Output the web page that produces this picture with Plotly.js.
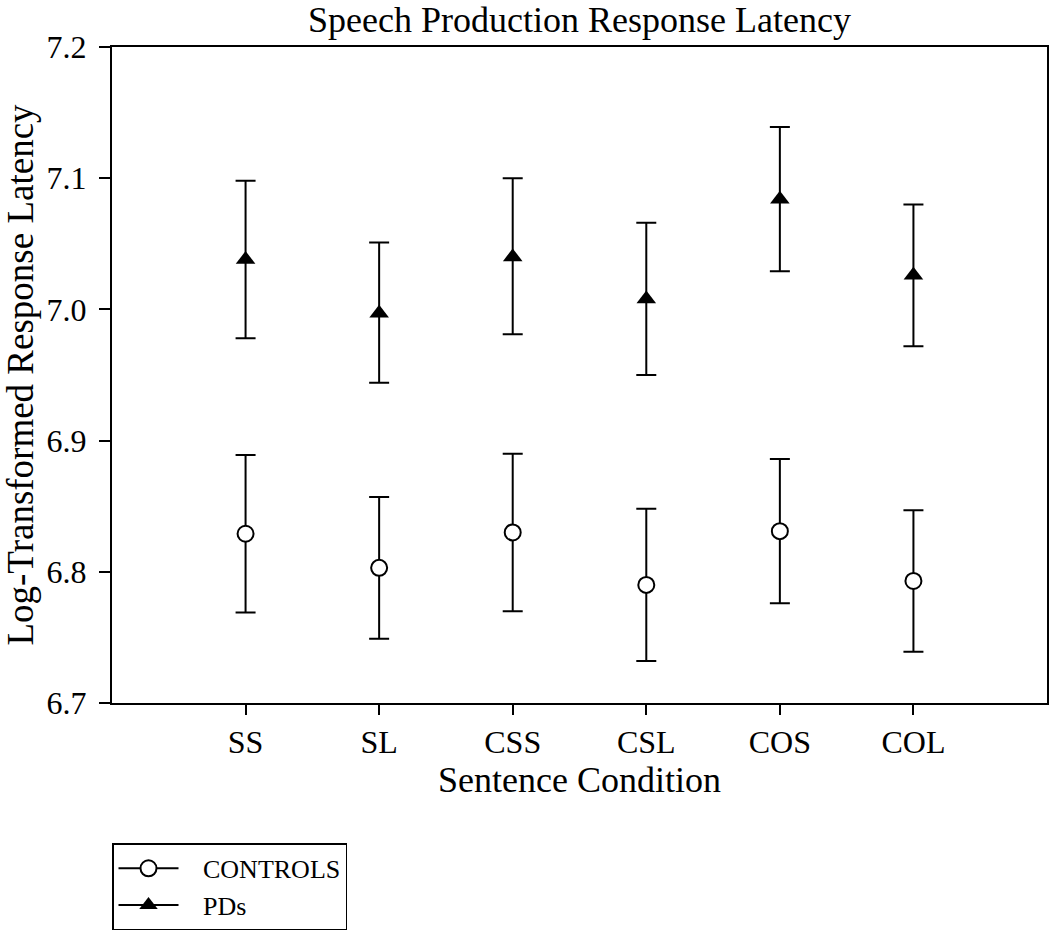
<!DOCTYPE html>
<html>
<head>
<meta charset="utf-8">
<script src="https://cdn.plot.ly/plotly-3.0.1.min.js"></script>
<style>html,body{margin:0;padding:0;background:#fff;}#chart{width:1050px;height:944px;}</style>
</head>
<body>
<div id="chart"></div>
<script>
const categories = ["SS", "SL", "CSS", "CSL", "COS", "COL"];
const positions = [1, 2, 3, 4, 5, 6];
const seriesNames = ["CONTROLS", "PDs"];

const controlsMean = [6.829, 6.803, 6.830, 6.790, 6.831, 6.793];
const controlsUpper = [6.889, 6.857, 6.890, 6.848, 6.886, 6.847];
const controlsLower = [6.769, 6.749, 6.770, 6.732, 6.776, 6.739];

const pdsMean = [7.038, 6.997, 7.040, 7.008, 7.084, 7.026];
const pdsUpper = [7.098, 7.051, 7.100, 7.066, 7.139, 7.080];
const pdsLower = [6.978, 6.944, 6.981, 6.950, 7.029, 6.972];

const yTicks = [6.7, 6.8, 6.9, 7.0, 7.1, 7.2];

const FONT = "Liberation Serif, Times New Roman, serif";
const PAD = "\u00a0\u00a0\u00a0";

function errs(mean, up, lo) {
  return {
    plus: mean.map((m, i) => +(up[i] - m).toFixed(4)),
    minus: mean.map((m, i) => +(m - lo[i]).toFixed(4))
  };
}
const ce = errs(controlsMean, controlsUpper, controlsLower);
const pe = errs(pdsMean, pdsUpper, pdsLower);

const ctrlMarker = {symbol: "circle", size: 16, color: "#ffffff", line: {color: "#000", width: 2}};
const pdMarker = {symbol: "triangle-up", size: 17, color: "#000", line: {color: "#000", width: 0}};

const traces = [
  {
    x: positions, y: controlsMean, name: seriesNames[0], type: "scatter", mode: "markers",
    marker: ctrlMarker, showlegend: false, legendgroup: "c",
    error_y: {type: "data", symmetric: false, array: ce.plus, arrayminus: ce.minus,
              color: "#000", thickness: 2, width: 10},
    cliponaxis: false
  },
  {
    x: positions, y: pdsMean, name: seriesNames[1], type: "scatter", mode: "markers",
    marker: pdMarker, showlegend: false, legendgroup: "p",
    error_y: {type: "data", symmetric: false, array: pe.plus, arrayminus: pe.minus,
              color: "#000", thickness: 2, width: 10},
    cliponaxis: false
  },
  // legend-only entries (line + marker symbol, as in the reference key)
  {x: [null], y: [null], name: PAD + seriesNames[0], type: "scatter", mode: "lines+markers",
   line: {color: "#000", width: 2}, marker: ctrlMarker, legendgroup: "c"},
  {x: [null], y: [null], name: PAD + seriesNames[1], type: "scatter", mode: "lines+markers",
   line: {color: "#000", width: 2}, marker: pdMarker, legendgroup: "p"}
];

const layout = {
  width: 1050, height: 944,
  margin: {l: 112, r: 3, t: 47, b: 241, pad: 0},
  paper_bgcolor: "#fff", plot_bgcolor: "#fff",
  font: {family: FONT, color: "#000", size: 32},
  title: {text: "Speech Production Response Latency", font: {family: FONT, size: 36, color: "#000"},
          x: 0.5, xref: "paper", y: 1 - 19/944, yref: "container", yanchor: "middle"},
  showlegend: true,
  legend: {
    x: 0, xanchor: "left", y: -0.214, yanchor: "top", xref: "paper", yref: "paper",
    bordercolor: "#000", borderwidth: 1.5, bgcolor: "#fff",
    font: {family: FONT, size: 26, color: "#000"},
    itemwidth: 60, tracegroupgap: 0, traceorder: "normal"
  },
  xaxis: {
    range: [0, 7], tickmode: "array", tickvals: positions, ticktext: categories,
    showgrid: false, zeroline: false, showline: true, linecolor: "#000", linewidth: 2,
    mirror: true, ticks: "outside", ticklen: 10, tickwidth: 2, tickcolor: "#000",
    tickfont: {family: FONT, size: 32, color: "#000"},
    title: {text: "Sentence Condition", font: {family: FONT, size: 36, color: "#000"}, standoff: 6},
    automargin: false
  },
  yaxis: {
    range: [6.7, 7.2], tickmode: "array", tickvals: yTicks, ticktext: yTicks.map(v => v.toFixed(1)),
    showgrid: false, zeroline: false, showline: true, linecolor: "#000", linewidth: 2,
    mirror: true, ticks: "outside", ticklen: 11, tickwidth: 2, tickcolor: "#000",
    ticklabelstandoff: 6,
    tickfont: {family: FONT, size: 32, color: "#000"},
    title: {text: "Log-Transformed Response Latency", font: {family: FONT, size: 37, color: "#000"}, standoff: 10},
    automargin: false
  }
};

Plotly.newPlot("chart", traces, layout, {displayModeBar: false, staticPlot: true});
</script>
</body>
</html>
